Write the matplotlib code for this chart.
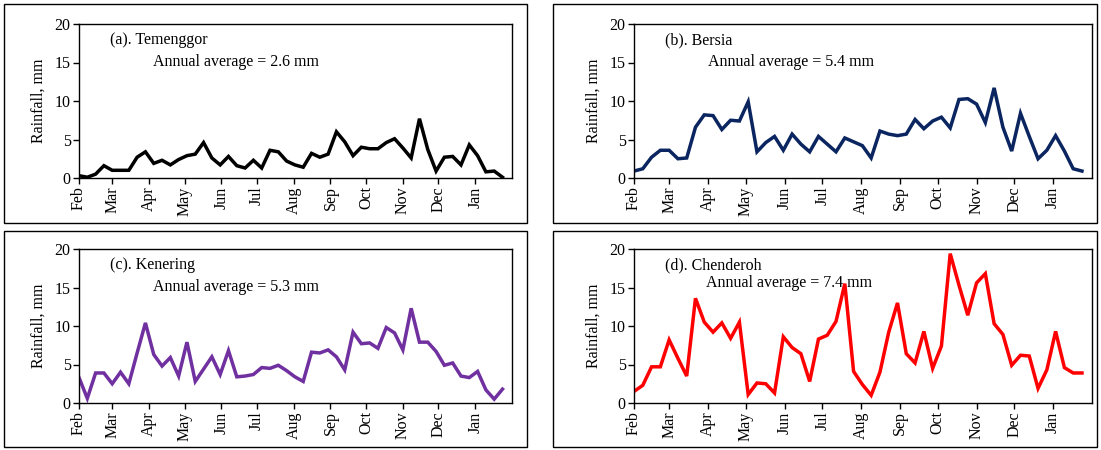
import matplotlib.pyplot as plt
from matplotlib.patches import Rectangle
import numpy as np

plt.rcParams["font.family"] = ["Liberation Serif", "DejaVu Serif"]

# Weekly rainfall, starting at the first week of February
months = ["Feb", "Mar", "Apr", "May", "Jun", "Jul", "Aug", "Sep", "Oct", "Nov", "Dec", "Jan"]
month_days = [28, 31, 30, 31, 30, 31, 31, 30, 31, 30, 31, 31]

temenggor = [0.3, 0.1, 0.5, 1.6, 1.0, 1.0, 1.0, 2.7, 3.4, 1.9, 2.3, 1.7, 2.4, 2.9,
             3.1, 4.6, 2.6, 1.7, 2.8, 1.6, 1.3, 2.3, 1.3, 3.6, 3.4, 2.2, 1.7, 1.4,
             3.2, 2.7, 3.1, 6.0, 4.7, 2.9, 4.0, 3.8, 3.8, 4.6, 5.1, 3.9, 2.6, 7.7,
             3.7, 0.9, 2.7, 2.8, 1.7, 4.3, 2.9, 0.8, 0.9, 0.1]
bersia = [0.9, 1.2, 2.7, 3.6, 3.6, 2.5, 2.6, 6.6, 8.2, 8.1, 6.3, 7.5, 7.4, 9.9,
          3.4, 4.6, 5.4, 3.6, 5.7, 4.4, 3.4, 5.4, 4.4, 3.4, 5.2, 4.7, 4.2, 2.6,
          6.1, 5.7, 5.5, 5.7, 7.6, 6.4, 7.4, 7.9, 6.5, 10.2, 10.3, 9.6, 7.2, 11.7,
          6.6, 3.5, 8.4, 5.4, 2.5, 3.6, 5.5, 3.5, 1.2, 0.9]
kenering = [3.3, 0.6, 3.9, 3.9, 2.5, 4.0, 2.5, 6.5, 10.4, 6.3, 4.8, 5.9, 3.5, 7.9,
            2.8, 4.4, 6.0, 3.7, 6.8, 3.4, 3.5, 3.7, 4.6, 4.5, 4.9, 4.2, 3.4, 2.8,
            6.6, 6.5, 6.9, 6.0, 4.3, 9.2, 7.7, 7.8, 7.1, 9.8, 9.1, 6.9, 12.3, 7.9,
            7.9, 6.7, 4.9, 5.2, 3.5, 3.3, 4.1, 1.7, 0.5, 1.8]
chenderoh = [1.5, 2.3, 4.7, 4.7, 8.2, 5.8, 3.5, 13.6, 10.5, 9.2, 10.4, 8.4, 10.5, 1.1,
             2.6, 2.5, 1.3, 8.6, 7.2, 6.4, 2.8, 8.3, 8.8, 10.6, 15.5, 4.1, 2.4, 1.0,
             4.0, 9.2, 13.0, 6.4, 5.2, 9.3, 4.5, 7.4, 19.4, 15.3, 11.4, 15.6, 16.8, 10.3,
             8.9, 4.9, 6.2, 6.1, 1.9, 4.3, 9.3, 4.6, 3.9, 3.9]

titles = ["(a). Temenggor", "(b). Bersia", "(c). Kenering", "(d). Chenderoh"]
averages = [2.6, 5.4, 5.3, 7.4]
series = [temenggor, bersia, kenering, chenderoh]
colors = ["black", "#0b2560", "#7030a0", "#ff0000"]

W, H = 1101, 450
fig = plt.figure(figsize=(W / 100, H / 100), dpi=100)

# panel frames and plot areas in pixel boxes (left, top, right, bottom)
frames = [(4, 4, 527, 223), (553, 4, 1097, 223), (4, 231, 527, 447), (553, 231, 1097, 447)]
plots = [(79, 24, 512, 178), (634, 24, 1092, 178), (79, 249, 512, 403), (634, 249, 1092, 403)]
# (title x, title y, note x, note y) in pixels
notes = [(110, 40, 153, 62), (665, 40, 708, 62), (110, 265, 153, 287), (665, 265, 706, 283)]

tick_pos = np.concatenate([[0], np.cumsum(month_days)[:-1]]) / 7.0

for k in range(4):
    l, t, r, b = frames[k]
    fig.add_artist(Rectangle((l / W, 1 - b / H), (r - l) / W, (b - t) / H,
                             transform=fig.transFigure, fill=False,
                             edgecolor="black", linewidth=1.0))
    l, t, r, b = plots[k]
    ax = fig.add_axes([l / W, 1 - b / H, (r - l) / W, (b - t) / H])
    weeks = np.arange(len(series[k]))
    ax.plot(weeks, series[k], color=colors[k], linewidth=2.5, solid_joinstyle="miter")
    ax.set_xlim(0, sum(month_days) / 7.0)
    ax.set_ylim(0, 20)
    ax.set_yticks([0, 5, 10, 15, 20])
    ax.set_xticks(tick_pos)
    ax.set_xticklabels(months, rotation=90)
    ax.tick_params(direction="out", length=4, width=1, labelsize=11.5, pad=2)
    for s in ax.spines.values():
        s.set_linewidth(1.0)
    ax.set_ylabel("Rainfall, mm", fontsize=11.5, labelpad=6)

    tx, ty, nx, ny = notes[k]
    fig.text(tx / W, 1 - ty / H, titles[k], fontsize=11.5, va="center", ha="left")
    fig.text(nx / W, 1 - ny / H, f"Annual average = {averages[k]} mm",
             fontsize=11.5, va="center", ha="left")

fig.savefig("out.png", dpi=100)
